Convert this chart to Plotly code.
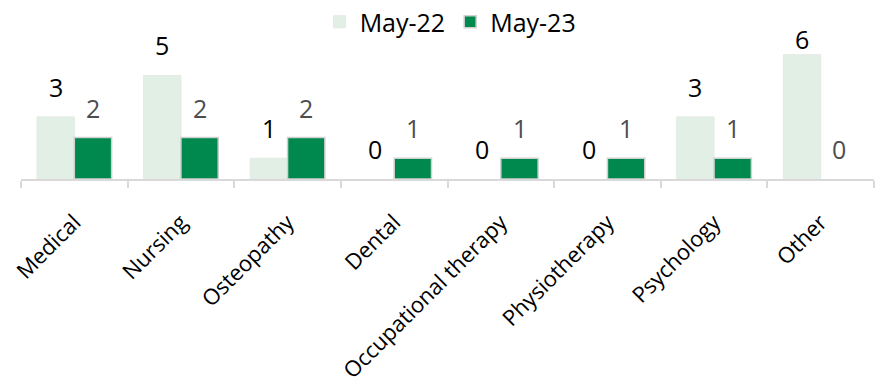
import plotly.graph_objects as go

categories = ["Medical", "Nursing", "Osteopathy", "Dental", "Occupational therapy",
              "Physiotherapy", "Psychology", "Other"]
may22 = [3, 5, 1, 0, 0, 0, 3, 6]
may23 = [2, 2, 2, 1, 1, 1, 1, 0]
series_names = ["May-22", "May-23"]

LIGHT = "#E2EFE5"
DARK = "#00894F"
FONT = "Open Sans"
FS = 25
TICK_FS = 22

fig = go.Figure()
fig.add_trace(go.Bar(x=categories, y=may22, name=series_names[0],
                     marker=dict(color=LIGHT,
                                 line=dict(color="#E4E9E5", width=[1 if v else 0 for v in may22]))))
fig.add_trace(go.Bar(x=categories, y=may23, name=series_names[1],
                     marker=dict(color=DARK,
                                 line=dict(color="#D0D0D0", width=[1.5 if v else 0 for v in may23]))))

LABEL_CAP = 5.3
annotations = []
for vals, shift, col in ((may22, -18.7, "#000000"), (may23, 18.7, "#4D4D4D")):
    for c, v in zip(categories, vals):
        annotations.append(dict(x=c, y=min(v, LABEL_CAP), xref="x", yref="y", text=str(v),
                                showarrow=False, xshift=shift, yshift=11, yanchor="bottom",
                                font=dict(family=FONT, size=FS, color=col)))

fig.update_layout(
    width=875, height=384,
    margin=dict(l=21, r=1, t=34, b=205, autoexpand=False),
    paper_bgcolor="white", plot_bgcolor="white",
    barmode="group", bargap=0.3, bargroupgap=0,
    font=dict(family=FONT, size=FS, color="#000000"),
    showlegend=True,
    legend=dict(orientation="h", xref="container", yref="container",
                x=0.515, xanchor="center", y=1 - 22 / 384, yanchor="middle",
                font=dict(family=FONT, size=FS, color="#000000"),
                itemwidth=30, traceorder="normal"),
    annotations=annotations,
)
fig.update_xaxes(showline=True, linecolor="#D9D9D9", linewidth=1.5,
                 ticks="outside", tickson="boundaries", ticklen=7,
                 tickcolor="#D9D9D9", tickwidth=1.5, tickangle=-45,
                 ticklabelstandoff=20, automargin=False,
                 tickfont=dict(family=FONT, size=TICK_FS, color="#000000"),
                 showgrid=False)
fig.update_yaxes(range=[0, 7], visible=False, showgrid=False, automargin=False)

fig.write_html("out.html")
